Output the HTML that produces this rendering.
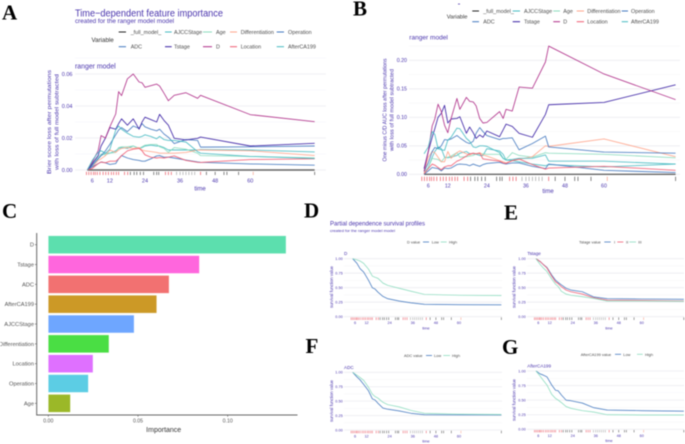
<!DOCTYPE html>
<html lang="en">
<head>
<meta charset="utf-8">
<title>Time-dependent feature importance panels</title>
<style>
html,body{margin:0;padding:0;background:#fff;width:685px;height:444px;overflow:hidden}
svg{display:block;filter:blur(.42px)}
text{font-family:"Liberation Sans",sans-serif}
.tt{fill:#4a35ad}
.lg{font-size:5.4px;fill:#4d4d4d}
.lgs{font-size:3.9px;fill:#4d4d4d}
.let{font-family:"Liberation Serif",serif;font-weight:bold;font-size:21px;fill:#000}
</style>
</head>
<body>
<svg id="chart" xmlns="http://www.w3.org/2000/svg" width="685" height="444" viewBox="0 0 685 444">
<rect width="685" height="444" fill="#fff"/>
<g id="layer"></g>

<text class="let" x="2" y="19.5">A</text>
<text class="let" x="353" y="15.7">B</text>
<text class="let" x="2" y="218">C</text>
<text class="let" x="304" y="217.3">D</text>
<text class="let" x="504" y="219.3">E</text>
<text class="let" x="305.5" y="353">F</text>
<text class="let" x="502" y="354">G</text>

<!-- Panel A titles and legend -->
<text class="tt" x="75" y="16.5" font-size="10" textLength="148" lengthAdjust="spacingAndGlyphs">Time−dependent feature importance</text>
<text class="tt" x="75" y="23" font-size="6" textLength="99" lengthAdjust="spacingAndGlyphs">created for the ranger model model</text>
<text class="tt" x="75" y="68.5" font-size="7" textLength="40.7" lengthAdjust="spacingAndGlyphs">ranger model</text>
<g>
<text x="91.5" y="42" font-size="6.2" fill="#333">Variable</text>
<line x1="118.7" x2="126" y1="32" y2="32" stroke="#222" stroke-width="1"/><text class="lg" x="130.7" y="34">_full_model_</text>
<line x1="165" x2="171.7" y1="32" y2="32" stroke="#46bac2" stroke-width="1"/><text class="lg" x="174" y="34">AJCCStage</text>
<line x1="203" x2="212" y1="32" y2="32" stroke="#8bdcbe" stroke-width="1"/><text class="lg" x="216" y="34">Age</text>
<line x1="230" x2="237" y1="32" y2="32" stroke="#ffa58c" stroke-width="1"/><text class="lg" x="240.7" y="34">Differentiation</text>
<line x1="276.7" x2="284" y1="32" y2="32" stroke="#4378bf" stroke-width="1"/><text class="lg" x="288" y="34">Operation</text>
<line x1="118.7" x2="126" y1="46.7" y2="46.7" stroke="#4378bf" stroke-width="1"/><text class="lg" x="130.7" y="48.7">ADC</text>
<line x1="165" x2="171.7" y1="46.7" y2="46.7" stroke="#371ea3" stroke-width="1"/><text class="lg" x="174" y="48.7">Tstage</text>
<line x1="203" x2="212" y1="46.7" y2="46.7" stroke="#ae2c87" stroke-width="1"/><text class="lg" x="216" y="48.7">D</text>
<line x1="230" x2="237" y1="46.7" y2="46.7" stroke="#f05a71" stroke-width="1"/><text class="lg" x="240.7" y="48.7">Location</text>
<line x1="276.7" x2="284" y1="46.7" y2="46.7" stroke="#46bac2" stroke-width="1"/><text class="lg" x="288" y="48.7">AfterCA199</text>
</g>
<g transform="translate(51,122) rotate(-90)">
<text class="tt" x="0" y="0" font-size="5.8" text-anchor="middle" textLength="104" lengthAdjust="spacingAndGlyphs">Brier score loss after permutations</text>
<text class="tt" x="0" y="7.5" font-size="5.8" text-anchor="middle" textLength="96" lengthAdjust="spacingAndGlyphs">with loss of full model subtracted</text>
</g>
<text class="tt" x="200" y="190.5" font-size="6" text-anchor="middle">time</text>

<!-- Panel B titles and legend -->
<rect x="458" y="3.7" width="2" height=".7" fill="#371ea3"/>
<text class="tt" x="409.3" y="39.3" font-size="6.6" textLength="38.5" lengthAdjust="spacingAndGlyphs">ranger model</text>
<g>
<text x="446.7" y="18.5" font-size="5.8" fill="#333">Variable</text>
<line x1="472.3" x2="479" y1="11" y2="11" stroke="#222" stroke-width="1"/><text class="lg" x="483.3" y="13">_full_model_</text>
<line x1="512.7" x2="520" y1="11" y2="11" stroke="#46bac2" stroke-width="1"/><text class="lg" x="524" y="13">AJCCStage</text>
<line x1="553.3" x2="560" y1="11" y2="11" stroke="#8bdcbe" stroke-width="1"/><text class="lg" x="563.3" y="13">Age</text>
<line x1="576.7" x2="584" y1="11" y2="11" stroke="#ffa58c" stroke-width="1"/><text class="lg" x="587.3" y="13">Differentiation</text>
<line x1="621.7" x2="628" y1="11" y2="11" stroke="#4378bf" stroke-width="1"/><text class="lg" x="631" y="13">Operation</text>
<line x1="472.3" x2="479" y1="21.7" y2="21.7" stroke="#4378bf" stroke-width="1"/><text class="lg" x="483.3" y="23.7">ADC</text>
<line x1="512.7" x2="520" y1="21.7" y2="21.7" stroke="#371ea3" stroke-width="1"/><text class="lg" x="524" y="23.7">Tstage</text>
<line x1="553.3" x2="560" y1="21.7" y2="21.7" stroke="#ae2c87" stroke-width="1"/><text class="lg" x="563.3" y="23.7">D</text>
<line x1="576.7" x2="584" y1="21.7" y2="21.7" stroke="#f05a71" stroke-width="1"/><text class="lg" x="587.3" y="23.7">Location</text>
<line x1="621.7" x2="628" y1="21.7" y2="21.7" stroke="#46bac2" stroke-width="1"/><text class="lg" x="631" y="23.7">AfterCA199</text>
</g>
<g transform="translate(386.5,110) rotate(-90)">
<text class="tt" x="0" y="0" font-size="5.4" text-anchor="middle" textLength="103" lengthAdjust="spacingAndGlyphs">One minus C/D AUC loss after permutations</text>
<text class="tt" x="0" y="6.8" font-size="5.4" text-anchor="middle" textLength="82" lengthAdjust="spacingAndGlyphs">with loss of full model subtracted</text>
</g>
<text class="tt" x="548" y="193" font-size="6" text-anchor="middle">time</text>

<!-- Panel C axis title -->
<text x="163.7" y="431.8" font-size="7" fill="#333" text-anchor="middle">Importance</text>

<!-- Panel D -->
<text class="tt" x="330" y="225.5" font-size="6.2" textLength="95" lengthAdjust="spacingAndGlyphs">Partial dependence survival profiles</text>
<text class="tt" x="330" y="231.8" font-size="3.9" textLength="65" lengthAdjust="spacingAndGlyphs">created for the ranger model model</text>
<g>
<text class="lgs" x="407" y="243.5">D value</text>
<line x1="423" x2="429" y1="242" y2="242" stroke="#4378bf" stroke-width=".8"/><text class="lgs" x="431.7" y="243.5">Low</text>
<line x1="440.7" x2="446.7" y1="242" y2="242" stroke="#8bdcbe" stroke-width=".8"/><text class="lgs" x="449" y="243.5">High</text>
</g>
<text class="tt" x="344" y="255" font-size="4.6">D</text>
<text class="tt" transform="translate(333,287) rotate(-90)" font-size="4.2" text-anchor="middle" textLength="42" lengthAdjust="spacingAndGlyphs">survival function value</text>
<text class="tt" x="426" y="329.3" font-size="3.9" text-anchor="middle">time</text>

<!-- Panel E -->
<g>
<text class="lgs" x="579" y="243.5">Tstage value</text>
<line x1="604.3" x2="610.7" y1="242" y2="242" stroke="#4378bf" stroke-width=".8"/><text class="lgs" x="614" y="243.5">I</text>
<line x1="617.3" x2="623.3" y1="242" y2="242" stroke="#f05a71" stroke-width=".8"/><text class="lgs" x="626" y="243.5">II</text>
<line x1="629.3" x2="636" y1="242" y2="242" stroke="#8bdcbe" stroke-width=".8"/><text class="lgs" x="638.3" y="243.5">III</text>
</g>
<text class="tt" x="527.3" y="255" font-size="4.6">Tstage</text>
<text class="tt" transform="translate(515.6,287) rotate(-90)" font-size="4.2" text-anchor="middle" textLength="42" lengthAdjust="spacingAndGlyphs">survival function value</text>
<text class="tt" x="609" y="329.3" font-size="3.9" text-anchor="middle">time</text>

<!-- Panel F -->
<g>
<text class="lgs" x="404" y="357">ADC value</text>
<line x1="426" x2="432" y1="355.5" y2="355.5" stroke="#4378bf" stroke-width=".8"/><text class="lgs" x="434" y="357">Low</text>
<line x1="443.3" x2="450" y1="355.5" y2="355.5" stroke="#8bdcbe" stroke-width=".8"/><text class="lgs" x="452" y="357">High</text>
</g>
<text class="tt" x="344" y="368.8" font-size="4.6">ADC</text>
<text class="tt" transform="translate(333,401) rotate(-90)" font-size="4.2" text-anchor="middle" textLength="42" lengthAdjust="spacingAndGlyphs">survival function value</text>
<text class="tt" x="426" y="442.5" font-size="3.9" text-anchor="middle">time</text>

<!-- Panel G -->
<g>
<text class="lgs" x="580.7" y="355.8">AfterCA199 value</text>
<line x1="615" x2="621" y1="354.3" y2="354.3" stroke="#4378bf" stroke-width=".8"/><text class="lgs" x="623.3" y="355.8">Low</text>
<line x1="637" x2="642.7" y1="354.3" y2="354.3" stroke="#8bdcbe" stroke-width=".8"/><text class="lgs" x="645" y="355.8">High</text>
</g>
<text class="tt" x="527.3" y="367.3" font-size="4.6">AfterCA199</text>
<text class="tt" transform="translate(515.6,400) rotate(-90)" font-size="4.2" text-anchor="middle" textLength="42" lengthAdjust="spacingAndGlyphs">survival function value</text>
<text class="tt" x="609" y="441.8" font-size="3.9" text-anchor="middle">time</text>
</svg>

<script>
// ---------- Data ----------
const timeTicks = [6, 12, 24, 36, 48, 60];
const rugRed = [4, 4.8, 5.6, 6.4, 7, 7.7, 8.6, 9.7, 10.6, 11.5, 12.5, 13.3, 14.2, 15, 17, 18.1, 31, 32, 33, 43];
const rugDark = [19, 20.3, 21.2, 22.4, 23.5, 27, 28, 28.7, 45, 48, 51, 52, 56, 82];
const rugGray = [34.8, 36, 37, 38, 39, 40, 41];
const rugSalmon = [61];

const timesA = [4.3, 6, 8, 9, 10.5, 12, 14, 15, 16, 18, 20, 22, 23, 24, 26, 28, 29, 30.5, 32, 34, 38, 42, 43, 60, 82];
const ticksA = ['0.00', '0.02', '0.04', '0.06'];
const fullA = [0, 0, 0, 0, 0, 0, 0, 0, 0, 0, 0, 0, 0, 0, 0, 0, 0, 0, 0, 0, 0, 0, 0, 0, 0];
const ajccA = [0, .003, .007, .009, .0105, .0105, .012, .0135, .014, .0135, .015, .0135, .014, .015, .0155, .015, .015, .014, .0125, .0125, .0125, .0125, .0128, .0125, .0113];
const ageA = [0, .004, .008, .010, .0095, .0105, .011, .014, .0145, .0145, .015, .0135, .0145, .0155, .016, .016, .0145, .0135, .011, .014, .013, .0105, .009, .0085, .0075];
const diffA = [0, .002, .006, .007, .009, .0125, .011, .0125, .0135, .014, .0135, .014, .0125, .012, .0115, .011, .0105, .0105, .0105, .0105, .011, .0125, .0125, .012, .009];
const operationA = [0, .002, .004, .005, .0045, .0035, .004, .007, .009, .0075, .0065, .006, .0055, .0055, .007, .0088, .009, .008, .008, .0075, .0062, .005, .0048, .0038, .003];
const adcA = [0, .003, .007, .009, .012, .016, .022, .025, .0265, .024, .0275, .026, .029, .027, .0255, .0245, .0255, .0225, .0205, .0165, .019, .0185, .0143, .0145, .015];
const tstageA = [0, .004, .009, .015, .020, .0265, .0255, .029, .032, .028, .032, .0255, .030, .033, .0315, .030, .0348, .031, .028, .0198, .0188, .0198, .0206, .015, .0167];
const dA = [0, .005, .012, .0215, .020, .027, .035, .049, .0465, .057, .060, .055, .0545, .0517, .0527, .0537, .0525, .048, .0433, .0467, .0483, .0448, .0467, .0346, .0302];
const locationA = [0, .001, .004, .005, .0045, .0055, .0055, .007, .009, .012, .013, .0135, .012, .0095, .008, .0075, .0078, .0075, .008, .0088, .006, .0048, .0047, .0065, .007];
const afterA = [0, .006, .011, .012, .0105, .013, .025, .0275, .0255, .023, .021, .0205, .021, .022, .021, .0195, .021, .019, .0185, .0185, .0175, .0115, .0105, .0085, .0072];

const timesB = [4.7, 6, 7.2, 8, 9, 10, 11, 12, 13, 14.8, 15.7, 17.7, 18.7, 19.8, 20.7, 21.8, 22.8, 24, 27.9, 29, 29.9, 31.8, 33.9, 38, 42, 43, 60, 82];
const ticksB = ['0.00', '0.05', '0.10', '0.15', '0.20'];
const fullB = [0, 0, 0, 0, 0, 0, 0, 0, 0, 0, 0, 0, 0, 0, 0, 0, 0, 0, 0, 0, 0, 0, 0, 0, 0, 0, 0, 0];
const ajccB = [.002, .012, .03, .04, .048, .045, .03, .029, .03, .033, .037, .04, .036, .036, .035, .033, .033, .045, .041, .035, .025, .024, .022, .018, .015, .017, .013, .018];
const ageB = [.002, .012, .028, .027, .026, .022, .029, .03, .032, .038, .03, .031, .032, .033, .036, .036, .036, .035, .035, .028, .026, .038, .033, .03, .038, .037, .035, .029];
const diffB = [.001, .03, .04, .038, .03, .022, .022, .04, .028, .038, .041, .036, .034, .037, .036, .038, .034, .032, .024, .022, .02, .024, .026, .031, .05, .049, .062, .031];
const operationB = [0, .006, .012, .011, .01, .006, .011, .01, .011, .017, .018, .017, .015, .018, .016, .014, .017, .019, .021, .019, .018, .02, .02, .014, .01, .018, .007, .003];
const adcB = [.005, .02, .04, .047, .045, .05, .061, .06, .062, .068, .064, .056, .054, .058, .072, .082, .075, .068, .061, .063, .063, .064, .043, .054, .067, .048, .039, .037];
const tstageB = [.01, .04, .065, .08, .10, .107, .121, .09, .097, .098, .101, .072, .083, .073, .063, .069, .065, .076, .066, .078, .088, .084, .072, .065, .105, .122, .126, .157];
const dB = [.005, .04, .085, .097, .123, .11, .086, .073, .098, .133, .114, .135, .128, .127, .12, .098, .09, .091, .11, .098, .114, .111, .153, .151, .197, .225, .176, .131];
const locationB = [.001, .01, .018, .016, .012, .008, .013, .015, .015, .023, .025, .032, .036, .037, .036, .037, .027, .026, .023, .02, .019, .024, .027, .017, .009, .011, .014, .007];
const afterB = [.036, .048, .075, .07, .045, .043, .042, .06, .065, .081, .08, .063, .058, .048, .047, .05, .05, .049, .038, .028, .025, .026, .028, .028, .034, .023, .023, .018];

const impLabels = ['D', 'Tstage', 'ADC', 'AfterCA199', 'AJCCStage', 'Differentiation', 'Location', 'Operation', 'Age'];
const impValues = [.1325, .0842, .0673, .0604, .0478, .0338, .0249, .0223, .0123];
const impTicks = ['0.00', '0.05', '0.10'];

const survTimes = [4.8, 7, 8.6, 10.5, 13, 15, 16.4, 18, 20.5, 23, 29, 35, 42, 60, 82];
const survTicks = ['0.00', '0.25', '0.50', '0.75', '1.00'];
const dLow = [1, .92, .83, .77, .63, .50, .477, .42, .35, .31, .27, .24, .213, .208, .205];
const dHigh = [1, .98, .96, .92, .82, .70, .68, .66, .58, .54, .49, .44, .385, .37, .365];
const tstageI = [1, .95, .90, .85, .72, .63, .59, .55, .49, .46, .43, .34, .31, .305, .30];
const tstageII = [1, .95, .90, .84, .70, .60, .57, .52, .46, .43, .39, .325, .285, .28, .27];
const tstageIII = [1, .90, .84, .78, .65, .56, .52, .44, .39, .37, .345, .315, .27, .27, .265];
const adcLow = [1, .92, .87, .79, .68, .54, .52, .46, .38, .36, .33, .29, .266, .262, .26];
const adcHigh = [1, .95, .91, .86, .74, .62, .58, .55, .48, .44, .40, .34, .29, .275, .27];
const afterLow = [1, .95, .93, .90, .76, .67, .66, .59, .50, .49, .45, .37, .33, .32, .31];
const afterHigh = [1, .91, .84, .76, .60, .53, .50, .46, .39, .36, .32, .295, .25, .245, .245];

// ---------- Drawing ----------
const NS = 'http://www.w3.org/2000/svg';
const layer = document.getElementById('layer');
function make(tag, attrs, parent) {
  const el = document.createElementNS(NS, tag);
  for (const k in attrs) el.setAttribute(k, attrs[k]);
  (parent || layer).appendChild(el);
  return el;
}
function linearScale(d0, d1, r0, r1) {
  return v => r0 + (v - d0) * (r1 - r0) / (d1 - d0);
}
function drawRug(g, x, y0, y1, w) {
  const groups = [[rugDark, '#555'], [rugGray, '#a5a5a5'], [rugRed, '#ea5560'], [rugSalmon, '#f7a08c']];
  groups.forEach(([times, color]) => {
    times.forEach(t => {
      const el = make('line', {x1: x(t), x2: x(t), y1: y0, y2: y1, stroke: color, 'stroke-width': w}, g);
      
      
    });
  });
}
function drawPanel(o) {
  const g = make('g', {});
  
  
  const x = linearScale(6, 60, o.x6, o.x60);
  const top = Number(o.ticks[o.ticks.length - 1]);
  const y = linearScale(0, top, o.y0, o.yTop);
  const step = Number(o.ticks[1]) - Number(o.ticks[0]);
  for (let i = 0; i < o.ticks.length * 2 - 1 + o.extra; i++) {
    const v = i * step / 2;
    const el = make('line', {x1: o.gridL, x2: o.gridR, y1: y(v), y2: y(v), stroke: i % 2 ? '#f6f6f8' : '#ececf0', 'stroke-width': i % 2 ? .6 : .8}, g);
    
    
  }
  o.ticks.forEach(t => {
    const el = make('text', {x: o.labelR, y: y(Number(t)) + o.fs * .36, 'font-size': o.fs, 'text-anchor': 'end', fill: '#4a35ad'}, g);
    el.textContent = t;
    
    
  });
  timeTicks.forEach(t => {
    const el = make('text', {x: x(t), y: o.xLabelY, 'font-size': o.fs, 'text-anchor': 'middle', fill: '#4a35ad'}, g);
    el.textContent = t;
    
    
  });
  drawRug(g, x, o.rug0, o.rug1, o.rugW);
  o.series.forEach(s => {
    const d = s.values.map((v, i) => (i ? 'L' : 'M') + x(o.times[i]).toFixed(2) + ' ' + y(v).toFixed(2)).join('');
    const el = make('path', {d: d, fill: 'none', stroke: s.color, 'stroke-width': s.w || o.lw, 'stroke-linejoin': 'round', opacity: s.op || .9}, g);
    
    
  });
}

const C_TEAL = '#46bac2', C_MINT = '#8bdcbe', C_SALMON = '#ffa58c', C_BLUE = '#4378bf', C_INK = '#371ea3', C_PLUM = '#ae2c87', C_RED = '#f05a71';

drawPanel({name: 'panel-a-chart', times: timesA, ticks: ticksA, extra: 1, x6: 92.3, x60: 250.3, y0: 170, yTop: 74,
  gridL: 75, gridR: 326, labelR: 72.5, fs: 5.5, xLabelY: 182.5, rug0: 171.8, rug1: 175, rugW: .7, lw: .9,
  series: [
    {key: 'full-model', values: fullA, color: '#555', w: 1.5},
    {key: 'ajccstage', values: ajccA, color: C_TEAL},
    {key: 'age', values: ageA, color: C_MINT},
    {key: 'differentiation', values: diffA, color: C_SALMON},
    {key: 'operation', values: operationA, color: C_BLUE},
    {key: 'adc', values: adcA, color: C_BLUE},
    {key: 'tstage', values: tstageA, color: C_INK},
    {key: 'd', values: dA, color: C_PLUM},
    {key: 'location', values: locationA, color: C_RED},
    {key: 'afterca199', values: afterA, color: C_TEAL}
  ]});

drawPanel({name: 'panel-b-chart', times: timesB, ticks: ticksB, extra: 1, x6: 428.3, x60: 604, y0: 174.3, yTop: 60.3,
  gridL: 409, gridR: 680, labelR: 407, fs: 5.3, xLabelY: 187.5, rug0: 176.7, rug1: 181, rugW: .7, lw: .9,
  series: [
    {key: 'full-model', values: fullB, color: '#555', w: 1.3},
    {key: 'ajccstage', values: ajccB, color: C_TEAL},
    {key: 'age', values: ageB, color: C_MINT},
    {key: 'differentiation', values: diffB, color: C_SALMON},
    {key: 'operation', values: operationB, color: C_BLUE},
    {key: 'adc', values: adcB, color: C_BLUE},
    {key: 'tstage', values: tstageB, color: C_INK},
    {key: 'd', values: dB, color: C_PLUM},
    {key: 'location', values: locationB, color: C_RED},
    {key: 'afterca199', values: afterB, color: C_TEAL}
  ]});

const survD = {x6: 355, x60: 459, gridL: 344, gridR: 502, labelR: 342.7};
const survE = {x6: 538.3, x60: 641.7, gridL: 527, gridR: 684, labelR: 525.7};
const survCommon = {times: survTimes, ticks: survTicks, extra: 0, fs: 3.8, rugW: .55, lw: .85};

drawPanel(Object.assign({}, survCommon, survD, {name: 'panel-d-chart', y0: 316.7, yTop: 258.7, xLabelY: 324.2, rug0: 317.4, rug1: 320,
  series: [{key: 'd-low', values: dLow, color: C_BLUE}, {key: 'd-high', values: dHigh, color: C_MINT}]}));
drawPanel(Object.assign({}, survCommon, survE, {name: 'panel-e-chart', y0: 316.7, yTop: 258.7, xLabelY: 324.2, rug0: 317.4, rug1: 320,
  series: [{key: 'tstage-i', values: tstageI, color: C_BLUE}, {key: 'tstage-ii', values: tstageII, color: C_RED}, {key: 'tstage-iii', values: tstageIII, color: C_MINT}]}));
drawPanel(Object.assign({}, survCommon, survD, {name: 'panel-f-chart', y0: 430, yTop: 372.3, xLabelY: 437.5, rug0: 430.8, rug1: 433.2,
  series: [{key: 'adc-low', values: adcLow, color: C_BLUE}, {key: 'adc-high', values: adcHigh, color: C_MINT}]}));
drawPanel(Object.assign({}, survCommon, survE, {name: 'panel-g-chart', y0: 429.3, yTop: 371, xLabelY: 436.8, rug0: 430, rug1: 432.4,
  series: [{key: 'after-low', values: afterLow, color: C_BLUE}, {key: 'after-high', values: afterHigh, color: C_MINT}]}));

// Panel C: horizontal bar chart
(function () {
  const g = make('g', {});
  
  
  const barColors = ['#5cdfae', '#ff66dd', '#f27171', '#cc9926', '#6ea6ff', '#4ade44', '#df70ff', '#5ccde4', '#9bb828'];
  const x = linearScale(0, .1, 48.3, 227.7);
  const yc = i => 244.7 + i * 19.83;
  impLabels.forEach((name, i) => {
    const bar = make('rect', {x: x(0), y: yc(i) - 8.9, width: x(impValues[i]) - x(0), height: 17.8, fill: barColors[i], stroke: '#fff', 'stroke-opacity': .6, 'stroke-width': .5}, g);
    
    
    const tick = make('line', {x1: 35, x2: 36.7, y1: yc(i), y2: yc(i), stroke: '#555', 'stroke-width': .6}, g);
    
    
    const lab = make('text', {x: 34, y: yc(i) + 2, 'font-size': 5.7, 'text-anchor': 'end', fill: '#555'}, g);
    lab.textContent = name;
    
    
  });
  impTicks.forEach(t => {
    const tick = make('line', {x1: x(Number(t)), x2: x(Number(t)), y1: 415, y2: 416.8, stroke: '#555', 'stroke-width': .6}, g);
    
    
    const lab = make('text', {x: x(Number(t)), y: 422.3, 'font-size': 5.2, 'text-anchor': 'middle', fill: '#555'}, g);
    lab.textContent = t;
    
    
  });
  const axis = make('path', {d: 'M36.7 233V415H297.5', fill: 'none', stroke: '#666', 'stroke-width': 1}, g);
  
  
})();
</script>
</body>
</html>
